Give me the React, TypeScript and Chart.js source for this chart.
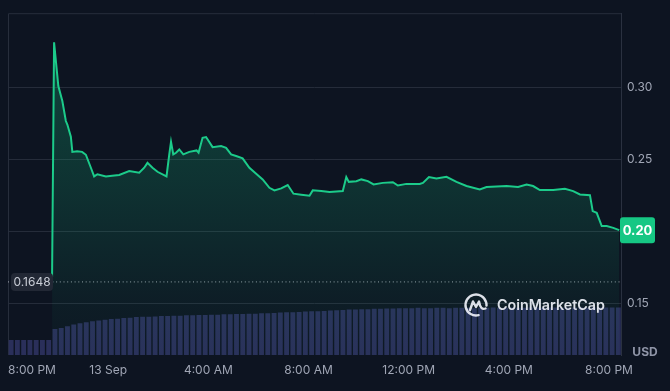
import React, { useEffect, useRef } from 'react';
import { Chart, registerables } from 'chart.js';

Chart.register(...registerables);

// Time is expressed in hours since 12 Sep 00:00
const priceHours = [21.76, 21.84, 22.01, 22.17, 22.31, 22.37, 22.51, 22.57, 22.76, 22.96, 23.11, 23.31, 23.44, 23.57, 23.91, 24.16, 24.44, 24.84, 25.24, 25.44, 25.57, 25.77, 25.97, 26.33, 26.44, 26.51, 26.6, 26.71, 26.84, 27.0, 27.24, 27.53, 27.61, 27.77, 27.91, 28.17, 28.51, 28.71, 28.91, 29.11, 29.37, 29.64, 29.91, 30.17, 30.44, 30.64, 30.91, 31.17, 31.4, 31.71, 32.04, 32.17, 32.51, 32.84, 33.37, 33.51, 33.61, 33.91, 34.11, 34.37, 34.6, 34.97, 35.37, 35.57, 35.91, 36.44, 36.57, 36.81, 37.11, 37.51, 37.91, 38.31, 38.84, 39.11, 39.91, 40.37, 40.71, 40.97, 41.24, 41.77, 42.24, 42.57, 42.84, 43.24, 43.35, 43.51, 43.71, 43.91, 44.17, 44.41];
const priceValues = [0.168, 0.331, 0.3007, 0.2903, 0.2764, 0.274, 0.2655, 0.255, 0.2555, 0.255, 0.253, 0.244, 0.238, 0.2395, 0.238, 0.2385, 0.239, 0.2417, 0.2405, 0.244, 0.2474, 0.244, 0.2412, 0.238, 0.2533, 0.262, 0.2533, 0.2544, 0.2567, 0.2533, 0.255, 0.256, 0.2544, 0.2648, 0.2653, 0.2583, 0.259, 0.2578, 0.2533, 0.2521, 0.2505, 0.244, 0.2398, 0.2359, 0.2301, 0.2283, 0.2297, 0.232, 0.226, 0.2253, 0.2246, 0.2283, 0.2278, 0.2271, 0.2278, 0.2375, 0.2342, 0.2347, 0.2359, 0.2347, 0.2324, 0.2335, 0.234, 0.2317, 0.2328, 0.2328, 0.2335, 0.2375, 0.2366, 0.2377, 0.2342, 0.2313, 0.229, 0.2306, 0.2313, 0.2306, 0.2324, 0.2313, 0.2285, 0.2285, 0.2294, 0.2278, 0.2255, 0.225, 0.2139, 0.2127, 0.2035, 0.2035, 0.2023, 0.2007];

const volumeStartHour = 20.125;
const volumeStepHours = 0.25;
const volumeValues = [4.4, 4.4, 4.4, 4.4, 4.4, 4.4, 4.4, 7.6, 7.9, 8.4, 8.9, 9.3, 9.6, 9.9, 10.1, 10.3, 10.5, 10.6, 10.8, 10.9, 11.1, 11.2, 11.2, 11.3, 11.4, 11.4, 11.5, 11.5, 11.6, 11.6, 11.7, 11.7, 11.8, 11.8, 11.9, 11.9, 12.0, 12.0, 12.1, 12.1, 12.2, 12.2, 12.3, 12.4, 12.5, 12.5, 12.6, 12.7, 12.8, 12.8, 12.9, 13.0, 13.1, 13.2, 13.3, 13.3, 13.4, 13.4, 13.5, 13.5, 13.6, 13.6, 13.7, 13.7, 13.7, 13.8, 13.7, 13.7, 13.8, 13.8, 13.7, 13.8, 13.8, 13.8, 13.7, 13.8, 13.8, 13.9, 13.8, 13.8, 13.9, 13.8, 13.8, 13.9, 13.9, 13.8, 13.9, 13.9, 13.8, 13.9, 13.9, 13.9, 13.8, 13.9, 13.9, 13.9, 13.9, 13.9];

const openPrice = 0.1648;
const xMinHour = 20;
const xMaxHour = 44.48;
const xTickHours = [20, 24, 28, 32, 36, 40, 44];
const xTickLabels = ['8:00 PM', '13 Sep', '4:00 AM', '8:00 AM', '12:00 PM', '4:00 PM', '8:00 PM'];
const yTickValues = [0.15, 0.2, 0.25, 0.3];
const yMin = 0.1141;
const yMax = 0.3512;
const currencyLabel = 'USD';
const watermarkText = 'CoinMarketCap';

const BG = '#0d1421';
const GREEN = '#16c784';
const GRID = '#252c3a';
const LABEL = '#a0a6b5';
const FONT = 'Inter, "Noto Sans", sans-serif';

function roundRect(ctx: CanvasRenderingContext2D, x: number, y: number, w: number, h: number, r: number) {
  ctx.beginPath();
  ctx.moveTo(x + r, y);
  ctx.lineTo(x + w - r, y);
  ctx.arcTo(x + w, y, x + w, y + r, r);
  ctx.lineTo(x + w, y + h - r);
  ctx.arcTo(x + w, y + h, x + w - r, y + h, r);
  ctx.lineTo(x + r, y + h);
  ctx.arcTo(x, y + h, x, y + h - r, r);
  ctx.lineTo(x, y + r);
  ctx.arcTo(x, y, x + r, y, r);
  ctx.closePath();
}

const decorPlugin = {
  id: 'decor',
  beforeDraw(chart: any) {
    const { ctx, width, height } = chart;
    ctx.save();
    ctx.fillStyle = BG;
    ctx.fillRect(0, 0, width, height);
    ctx.restore();
  },
  beforeDatasetsDraw(chart: any) {
    const { ctx, chartArea: ca } = chart;
    ctx.save();
    ctx.strokeStyle = '#272e3c';
    ctx.lineWidth = 1;
    ctx.beginPath();
    ctx.moveTo(ca.left + 0.5, ca.bottom);
    ctx.lineTo(ca.left + 0.5, ca.top + 0.5);
    ctx.lineTo(ca.right, ca.top + 0.5);
    ctx.stroke();
    ctx.restore();
  },
  afterDatasetsDraw(chart: any) {
    const { ctx, chartArea: ca } = chart;
    ctx.save();
    const cx = ca.right - 145;
    const cy = ca.bottom - 50;
    ctx.strokeStyle = 'rgba(232,235,242,0.95)';
    ctx.lineWidth = 2.4;
    ctx.lineCap = 'round';
    ctx.lineJoin = 'round';
    ctx.beginPath();
    ctx.arc(cx, cy, 10.5, 0.42 * Math.PI, 2.02 * Math.PI);
    ctx.stroke();
    ctx.beginPath();
    ctx.moveTo(cx - 6, cy + 5);
    ctx.lineTo(cx - 3, cy - 3.5);
    ctx.lineTo(cx, cy + 2);
    ctx.lineTo(cx + 3, cy - 3.5);
    ctx.quadraticCurveTo(cx + 4.5, cy + 5.5, cx + 9.5, cy + 3.5);
    ctx.stroke();
    ctx.fillStyle = 'rgba(232,235,242,0.95)';
    ctx.textBaseline = 'middle';
    ctx.textAlign = 'left';
    let size = 17;
    ctx.font = `600 ${size}px ${FONT}`;
    const w = ctx.measureText(watermarkText).width;
    size = size * 108 / w;
    ctx.font = `600 ${size}px ${FONT}`;
    ctx.fillText(watermarkText, ca.right - 124, cy + 1);
    ctx.restore();
  },
  afterDraw(chart: any) {
    const { ctx, chartArea: ca, scales } = chart;
    const y = scales.y;
    ctx.save();
    const oy = y.getPixelForValue(openPrice);
    roundRect(ctx, ca.left + 3, oy - 9, 42, 18, 4);
    ctx.fillStyle = '#222835';
    ctx.fill();
    ctx.fillStyle = '#c9cdd6';
    ctx.font = `12px ${FONT}`;
    ctx.textAlign = 'center';
    ctx.textBaseline = 'middle';
    ctx.fillText(openPrice.toFixed(4), ca.left + 24, oy + 0.5);
    const last = priceValues[priceValues.length - 1];
    const ly = y.getPixelForValue(last);
    roundRect(ctx, ca.right - 1, ly - 13, 35, 26, 3);
    ctx.fillStyle = GREEN;
    ctx.fill();
    ctx.fillStyle = '#ffffff';
    ctx.font = `bold 13px ${FONT}`;
    ctx.fillText(last.toFixed(2), ca.right + 16.5, ly + 0.5);
    ctx.fillStyle = '#8f95a7';
    ctx.font = `bold 12px ${FONT}`;
    ctx.fillText(currencyLabel, ca.right + 24, ca.bottom - 3);
    ctx.restore();
  },
};

export default function App() {
  const canvasRef = useRef<HTMLCanvasElement | null>(null);

  useEffect(() => {
    document.body.style.margin = '0';
    document.body.style.background = BG;
    const canvas = canvasRef.current;
    if (!canvas) return;

    const priceData = priceHours.map((h, i) => ({ x: h, y: priceValues[i] }));
    const volumeData = volumeValues.map((v, i) => ({ x: volumeStartHour + i * volumeStepHours, y: v }));
    const openData = [{ x: xMinHour, y: openPrice }, { x: xMaxHour, y: openPrice }];

    const chart = new Chart(canvas, {
      type: 'bar',
      data: {
        datasets: [
          {
            type: 'line',
            data: priceData,
            borderColor: '#1ccb8a',
            borderWidth: 2,
            pointRadius: 0,
            tension: 0,
            fill: 'start',
            backgroundColor: (c: any) => {
              const ca = c.chart.chartArea;
              if (!ca) return 'transparent';
              const g = c.chart.ctx.createLinearGradient(0, ca.top, 0, ca.bottom);
              g.addColorStop(0, 'rgba(22,199,132,0.30)');
              g.addColorStop(0.5, 'rgba(22,199,132,0.17)');
              g.addColorStop(0.85, 'rgba(22,199,132,0.05)');
              g.addColorStop(1, 'rgba(22,199,132,0.02)');
              return g;
            },
            yAxisID: 'y',
            order: 1,
          } as any,
          {
            type: 'line',
            data: openData,
            borderColor: 'rgba(205,210,220,0.75)',
            borderWidth: 1,
            borderDash: [1, 2.7],
            pointRadius: 0,
            fill: false,
            yAxisID: 'y',
            order: 2,
          } as any,
          {
            type: 'bar',
            data: volumeData,
            backgroundColor: '#2a2f5a',
            borderWidth: 0,
            barPercentage: 0.78,
            categoryPercentage: 1,
            yAxisID: 'yv',
            order: 3,
          } as any,
        ],
      },
      options: {
        animation: false,
        responsive: false,
        maintainAspectRatio: false,
        layout: { padding: { left: 8, top: 12, right: 0, bottom: 0 } },
        plugins: { legend: { display: false }, tooltip: { enabled: false } },
        scales: {
          x: {
            type: 'linear',
            min: xMinHour,
            max: xMaxHour,
            offset: false,
            grid: { display: false, drawTicks: false },
            border: { display: false },
            afterBuildTicks: (s: any) => {
              s.ticks = [...xTickHours.map((v) => ({ value: v })), { value: xMaxHour }];
            },
            afterFit: (s: any) => {
              s.height = 36;
              s.paddingLeft = 0;
              s.paddingRight = 0;
            },
            ticks: {
              align: 'inner',
              autoSkip: false,
              maxRotation: 0,
              padding: 8,
              color: LABEL,
              font: { family: FONT, size: 12 },
              callback: (_v: any, i: number) => xTickLabels[i] ?? '',
            },
          } as any,
          y: {
            position: 'right',
            min: yMin,
            max: yMax,
            afterBuildTicks: (s: any) => {
              s.ticks = yTickValues.map((v) => ({ value: v }));
            },
            afterFit: (s: any) => {
              s.width = 49;
            },
            grid: { color: GRID, drawTicks: false },
            border: { display: true, color: '#2a3140' },
            ticks: {
              padding: 6,
              color: LABEL,
              font: { family: FONT, size: 12 },
              callback: (v: any) => Number(v).toFixed(2),
            },
          } as any,
          yv: {
            display: false,
            min: 0,
            max: 100,
          },
        },
      } as any,
      plugins: [decorPlugin],
    });

    return () => chart.destroy();
  }, []);

  return (
    <div style={{ width: 670, height: 391, background: BG }}>
      <canvas ref={canvasRef} width={670} height={391} style={{ display: 'block' }} />
    </div>
  );
}
